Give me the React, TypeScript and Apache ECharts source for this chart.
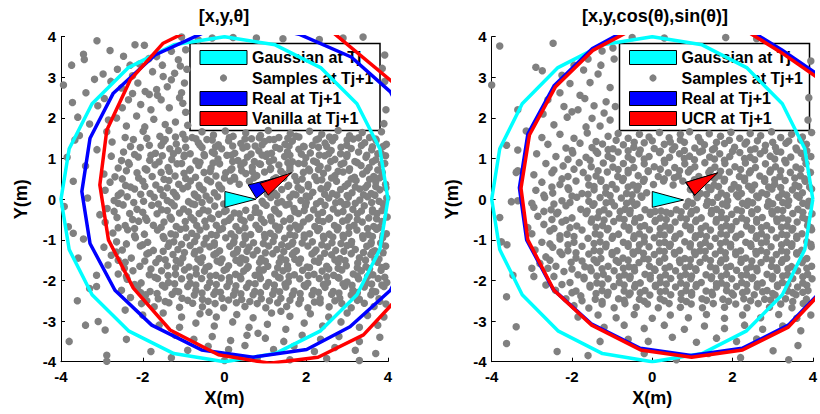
import React, { useEffect, useRef } from 'react';
import * as echarts from 'echarts';

const FONT = '"Liberation Sans", Arial, Helvetica, sans-serif';

const plotTitles = ['[x,y,θ]', '[x,y,cos(θ),sin(θ)]'];
const legendLeft = ['Gaussian at Tj', 'Samples at Tj+1', 'Real at Tj+1', 'Vanilla at Tj+1'];
const legendRight = ['Gaussian at Tj', 'Samples at Tj+1', 'Real at Tj+1', 'UCR at Tj+1'];

// Gaussian at Tj (same polygon in both panels)
const gaussianTj = [[4, 0], [3.8, 1.24], [3.24, 2.35], [2.35, 3.24], [1.24, 3.8], [0, 4], [-1.24, 3.8], [-2.35, 3.24], [-3.24, 2.35], [-3.8, 1.24], [-4, 0], [-3.8, -1.24], [-3.24, -2.35], [-2.35, -3.24], [-1.24, -3.8], [0, -4], [1.24, -3.8], [2.35, -3.24], [3.24, -2.35], [3.8, -1.24], [4, 0]];

const realLeft = [[4.85, 0.2], [4.65, 1.48], [4.06, 2.64], [3.1, 3.5], [1.85, 4.05], [0.7, 4.35], [-0.4, 4.15], [-1.7, 3.55], [-2.72, 2.61], [-3.29, 1.5], [-3.49, 0.19], [-3.29, -1.09], [-2.68, -2.24], [-1.78, -3.1], [-0.56, -3.71], [0.7, -3.89], [2.01, -3.7], [3.07, -3.14], [4.06, -2.24], [4.65, -1.1], [4.85, 0.2]];
const vanillaLeft = [[5.0, 0.3], [4.9, 1.5], [4.45, 2.6], [2.3, 4.4], [-0.4, 4.38], [-1.5, 3.84], [-2.31, 2.93], [-2.88, 1.7], [-3.05, 0.35], [-2.84, -1.0], [-2.23, -2.19], [-1.33, -3.22], [-0.15, -3.83], [1.11, -4.04], [2.29, -3.89], [3.4, -3.34], [4.3, -2.37], [4.85, -1.0], [5.0, 0.3]];
const realRight = [[4.95, 0.12], [4.8, 1.45], [4.3, 2.95], [3.22, 3.68], [2.02, 4.4], [0.85, 4.5], [-0.42, 4.28], [-1.49, 3.71], [-2.44, 2.8], [-3.1, 1.6], [-3.31, 0.28], [-3.13, -1.0], [-2.47, -2.22], [-1.52, -3.07], [-0.3, -3.67], [0.97, -3.85], [2.24, -3.67], [3.39, -3.1], [4.22, -2.25], [4.72, -1.15], [4.95, 0.12]];
const ucrRight = [[4.9, 0.1], [4.75, 1.4], [4.25, 2.9], [3.2, 3.62], [2.0, 4.35], [0.85, 4.45], [-0.45, 4.2], [-1.47, 3.67], [-2.41, 2.77], [-3.06, 1.58], [-3.27, 0.27], [-3.1, -1.0], [-2.45, -2.24], [-1.51, -3.1], [-0.29, -3.71], [0.98, -3.89], [2.25, -3.71], [3.39, -3.15], [4.2, -2.3], [4.7, -1.2], [4.9, 0.1]];

// pose arrows (triangles)
const arrowGaussianLeft = [[0.01, 0.19], [0.01, -0.2], [0.77, 0.0]];
const arrowRealLeft = [[0.58, 0.35], [0.78, 0.02], [1.45, 0.57]];
const arrowVanillaLeft = [[0.87, 0.39], [1.07, 0.1], [1.64, 0.65]];
const arrowGaussianRight = [[0.0, 0.19], [0.0, -0.2], [0.78, -0.02]];
const arrowRealRight = [[0.83, 0.41], [1.05, 0.09], [1.61, 0.64]];
const arrowUcrRight = [[0.84, 0.415], [1.06, 0.1], [1.63, 0.65]];

// samples at Tj+1 (x,y pairs), left panel
const samplesLeft = [
  -3.45,3.57,-3.43,3.44,-3.74,3.3,-2.8,3.66,-2.19,3.8,-1.96,3.79,-1.66,3.51,-1.13,3.43,-1.05,3.99,-0.64,3.92,-2.31,3.3,-1.52,3.3,-1.3,3.64,-2.47,3.52,-3.12,3.9,0.21,3.98,0.78,3.97,1.43,3.95,2.32,3.93,3.39,3.99,3.92,3.55,-0.95,3.68,-1.85,3.46,-2.08,3.33,2.9,3.97,-0.3,3.97,
  -3.94,2.81,-3.39,2.62,-2.97,3.08,-2.62,3.2,-2.25,3.04,-1.94,2.65,-1.84,2.58,-1.66,2.7,-1.4,2.77,-1.22,3.1,-1.5,3.02,-0.98,2.86,-1.08,3.28,-2.12,2.86,-2.52,2.74,-1.76,3.14,-1.3,2.94,-0.92,3.2,3.92,2.9,3.86,3.22,-3.18,2.95,-2.78,2.9,-1.05,2.62,
  -3.59,2.02,-2.84,1.95,-2.64,2.0,-3.1,2.3,-2.35,2.45,-2.05,2.33,-1.8,2.2,-1.55,2.45,-1.35,2.25,-1.1,2.5,-0.95,2.14,-1.2,1.9,-1.45,1.84,-1.73,1.97,-2.15,2.05,-2.5,2.25,-2.94,2.48,-1.95,1.78,-2.4,1.8,-0.9,1.82,-1.64,2.56,3.95,2.2,3.9,1.86,-3.3,1.85,-2.25,2.6,-1.02,2.36,-3.72,2.38,
  -3.55,1.57,-2.88,1.66,-2.43,1.52,-1.99,1.67,-1.58,1.55,-1.36,1.69,-1.02,1.6,-0.79,1.52,-0.55,1.66,-0.27,1.58,0.02,1.68,0.21,1.55,0.52,1.63,0.88,1.57,1.07,1.69,1.33,1.52,1.61,1.62,1.75,1.55,2.08,1.67,2.38,1.6,2.57,1.53,2.78,1.69,3.06,1.56,3.37,1.64,3.55,1.52,3.84,1.66,
  -3.66,1.46,-2.75,1.41,-2.23,1.47,-1.84,1.33,-1.49,1.42,-1.18,1.36,-0.96,1.48,-0.64,1.39,-0.43,1.47,-0.15,1.34,0.1,1.44,0.4,1.37,0.66,1.49,0.75,1.31,0.98,1.42,1.21,1.47,1.48,1.35,1.66,1.43,1.93,1.3,2.24,1.46,2.46,1.38,2.64,1.44,2.99,1.33,3.15,1.48,3.43,1.39,3.71,1.45,3.96,1.35,
  -3.12,1.22,-2.47,1.16,-2.06,1.27,-1.69,1.13,-1.34,1.24,-1.13,1.2,-0.84,1.12,-0.55,1.27,-0.3,1.16,-0.07,1.24,0.25,1.13,0.45,1.26,0.84,1.19,1.05,1.11,1.35,1.24,1.54,1.17,1.82,1.23,2.1,1.14,2.3,1.28,2.61,1.2,2.84,1.12,3.1,1.25,3.28,1.16,3.6,1.22,3.83,1.13,
  -3.85,1.03,-2.77,1.06,-2.52,0.95,-2.11,1.04,-1.83,0.96,-1.52,1.07,-1.29,0.98,-0.99,1.05,-0.7,0.94,-0.49,1.07,-0.16,0.99,0.06,1.08,0.33,0.95,0.56,1.04,0.73,0.93,1.01,1.06,1.2,0.97,1.47,1.05,1.66,0.92,1.99,1.02,2.18,0.94,2.45,1.07,2.7,0.98,2.99,1.05,3.19,0.93,3.46,1.03,3.7,0.97,3.94,1.07,
  -3.4,0.82,-2.6,0.77,-2.33,0.86,-1.94,0.75,-1.7,0.85,-1.38,0.78,-1.16,0.87,-0.84,0.74,-0.63,0.83,-0.33,0.77,-0.12,0.87,0.18,0.75,0.4,0.82,0.68,0.79,0.88,0.86,1.13,0.76,1.33,0.84,1.6,0.79,1.81,0.88,2.06,0.74,2.34,0.81,2.53,0.77,2.85,0.86,3.06,0.75,3.34,0.83,3.54,0.78,3.84,0.86,
  -2.95,0.62,-2.68,0.55,-2.14,0.65,-1.77,0.56,-1.55,0.66,-1.21,0.57,-0.99,0.64,-0.71,0.54,-0.5,0.66,-0.21,0.57,0.03,0.65,0.24,0.54,0.52,0.63,0.79,0.58,0.98,0.67,1.26,0.53,1.45,0.62,1.72,0.56,1.93,0.66,2.21,0.55,2.42,0.64,2.7,0.58,2.9,0.67,3.18,0.54,3.38,0.62,3.65,0.56,3.86,0.66,
  -3.7,0.44,-2.8,0.42,-2.42,0.34,-2.0,0.44,-1.68,0.35,-1.36,0.46,-1.12,0.37,-0.83,0.45,-0.62,0.34,-0.34,0.43,-0.14,0.35,0.14,0.45,0.36,0.37,0.61,0.44,1.28,0.44,1.57,0.34,1.77,0.45,2.05,0.36,2.26,0.46,2.53,0.35,2.74,0.44,3.02,0.38,3.22,0.46,3.5,0.35,3.7,0.43,3.94,0.37,
  -2.92,0.22,-2.53,0.15,-2.2,0.25,-1.82,0.14,-1.57,0.24,-1.25,0.17,-1.02,0.26,-0.74,0.13,-0.52,0.23,-0.25,0.16,-0.07,0.26,0.93,0.25,1.22,0.15,1.4,0.24,1.68,0.13,1.88,0.23,2.16,0.17,2.36,0.26,2.64,0.14,2.84,0.24,3.12,0.16,3.31,0.25,3.59,0.14,3.8,0.23,
  -3.35,0.03,-2.7,-0.03,-2.38,0.06,-1.98,-0.05,-1.72,0.05,-1.4,-0.03,-1.17,0.06,-0.88,-0.06,-0.65,0.04,-0.36,-0.02,-0.17,0.06,0.92,-0.05,1.13,0.04,1.4,-0.06,1.6,0.05,1.87,-0.03,2.08,0.06,2.35,-0.05,2.55,0.03,2.84,-0.06,3.03,0.05,3.31,-0.02,3.5,0.06,3.78,-0.05,3.97,0.03,
  -3.92,-0.18,-2.87,-0.23,-2.48,-0.14,-2.14,-0.25,-1.78,-0.15,-1.54,-0.26,-1.23,-0.16,-1.0,-0.24,-0.73,-0.13,-0.52,-0.26,-0.24,-0.17,0.04,-0.28,0.24,-0.34,0.52,-0.27,0.76,-0.21,1.02,-0.15,1.22,-0.25,1.5,-0.14,1.7,-0.23,1.98,-0.16,2.18,-0.26,2.46,-0.15,2.66,-0.24,2.94,-0.14,3.14,-0.25,3.42,-0.16,3.62,-0.26,3.9,-0.15,
  -3.05,-0.38,-2.63,-0.45,-2.32,-0.35,-1.93,-0.46,-1.65,-0.36,-1.33,-0.44,-1.1,-0.34,-0.82,-0.45,-0.62,-0.35,-0.34,-0.46,-0.14,-0.37,0.15,-0.46,0.36,-0.36,0.64,-0.45,0.85,-0.34,1.13,-0.44,1.33,-0.36,1.61,-0.47,1.81,-0.35,2.09,-0.45,2.29,-0.37,2.57,-0.46,2.77,-0.34,3.05,-0.44,3.25,-0.36,3.53,-0.46,3.73,-0.35,3.98,-0.44,
  -3.82,-0.68,-2.92,-0.57,-2.43,-0.65,-2.1,-0.54,-1.74,-0.64,-1.48,-0.56,-1.18,-0.67,-0.96,-0.55,-0.68,-0.65,-0.48,-0.54,-0.2,-0.64,0.0,-0.56,0.28,-0.67,0.48,-0.54,0.77,-0.64,0.97,-0.57,1.25,-0.66,1.45,-0.54,1.73,-0.64,1.93,-0.56,2.21,-0.67,2.41,-0.55,2.69,-0.65,2.89,-0.54,3.17,-0.64,3.37,-0.56,3.65,-0.67,3.85,-0.55,
  -3.7,-0.84,-2.73,-0.83,-2.37,-0.75,-1.96,-0.86,-1.64,-0.76,-1.31,-0.85,-1.08,-0.74,-0.8,-0.84,-0.6,-0.76,-0.32,-0.87,-0.12,-0.75,0.16,-0.85,0.36,-0.77,0.64,-0.87,0.84,-0.74,1.12,-0.84,1.32,-0.76,1.6,-0.87,1.8,-0.74,2.08,-0.85,2.28,-0.77,2.56,-0.86,2.76,-0.75,3.04,-0.84,3.24,-0.76,3.52,-0.87,3.72,-0.74,3.96,-0.85,
  -3.45,-0.98,-2.64,-1.05,-2.18,-0.95,-1.88,-1.06,-1.48,-0.96,-1.24,-1.05,-0.93,-0.94,-0.73,-1.04,-0.45,-0.96,-0.25,-1.07,0.03,-0.95,0.23,-1.05,0.51,-0.97,0.71,-1.07,0.99,-0.94,1.19,-1.04,1.47,-0.96,1.67,-1.06,1.95,-0.95,2.15,-1.05,2.43,-0.97,2.63,-1.07,2.91,-0.94,3.11,-1.04,3.39,-0.96,3.59,-1.06,3.87,-0.95,
  -2.95,-1.18,-2.5,-1.25,-2.06,-1.15,-1.74,-1.26,-1.38,-1.16,-1.14,-1.24,-0.84,-1.14,-0.6,-1.25,-0.36,-1.17,-0.12,-1.27,0.13,-1.16,0.32,-1.24,0.6,-1.18,0.8,-1.26,1.08,-1.15,1.28,-1.24,1.56,-1.16,1.76,-1.27,2.04,-1.15,2.24,-1.25,2.52,-1.17,2.72,-1.26,3.0,-1.14,3.2,-1.24,3.48,-1.16,3.68,-1.27,3.94,-1.15,
  -3.58,-1.45,-2.77,-1.38,-2.28,-1.45,-1.9,-1.35,-1.6,-1.46,-1.26,-1.36,-1.02,-1.45,-0.74,-1.34,-0.54,-1.44,-0.26,-1.37,-0.06,-1.47,0.22,-1.35,0.42,-1.45,0.7,-1.37,0.9,-1.46,1.18,-1.34,1.38,-1.44,1.66,-1.36,1.86,-1.47,2.14,-1.35,2.34,-1.45,2.62,-1.37,2.82,-1.46,3.1,-1.34,3.3,-1.44,3.58,-1.36,3.78,-1.47,
  -2.85,-1.62,-2.43,-1.55,-2.07,-1.65,-1.68,-1.56,-1.4,-1.64,-1.08,-1.57,-0.87,-1.67,-0.58,-1.55,-0.38,-1.65,-0.1,-1.56,0.1,-1.64,0.38,-1.57,0.58,-1.66,0.86,-1.55,1.06,-1.65,1.34,-1.56,1.54,-1.64,1.82,-1.57,2.02,-1.67,2.3,-1.55,2.5,-1.65,2.78,-1.56,2.98,-1.64,3.26,-1.57,3.46,-1.66,3.74,-1.55,3.95,-1.65,
  -3.13,-1.87,-2.6,-1.84,-2.24,-1.76,-1.84,-1.86,-1.54,-1.76,-1.2,-1.85,-0.98,-1.74,-0.69,-1.84,-0.49,-1.77,-0.21,-1.87,-0.01,-1.75,0.27,-1.85,0.47,-1.77,0.75,-1.87,0.95,-1.74,1.23,-1.84,1.43,-1.76,1.71,-1.86,1.91,-1.75,2.19,-1.85,2.39,-1.77,2.67,-1.87,2.87,-1.74,3.15,-1.84,3.35,-1.76,3.63,-1.86,3.83,-1.75,
  -3.13,-2.15,-2.38,-1.97,-2.04,-2.06,-1.64,-1.95,-1.37,-2.05,-1.05,-1.96,-0.84,-2.07,-0.56,-1.95,-0.36,-2.05,-0.08,-1.94,0.12,-2.04,0.4,-1.96,0.6,-2.07,0.88,-1.95,1.08,-2.05,1.36,-1.94,1.56,-2.04,1.84,-1.96,2.04,-2.07,2.32,-1.95,2.52,-2.05,2.8,-1.94,3.0,-2.04,3.28,-1.96,3.48,-2.06,3.76,-1.95,3.97,-2.05,
  -2.52,-2.24,-2.13,-2.17,-1.82,-2.27,-1.46,-2.16,-1.2,-2.26,-0.9,-2.15,-0.7,-2.25,-0.42,-2.17,-0.22,-2.27,0.06,-2.15,0.26,-2.25,0.54,-2.17,0.74,-2.27,1.02,-2.14,1.22,-2.24,1.5,-2.16,1.7,-2.26,1.98,-2.15,2.18,-2.25,2.46,-2.17,2.66,-2.27,2.94,-2.14,3.14,-2.24,3.42,-2.16,3.62,-2.26,3.9,-2.15,
  -2.3,-2.42,-1.93,-2.35,-1.62,-2.45,-1.28,-2.34,-1.04,-2.44,-0.74,-2.36,-0.54,-2.46,-0.26,-2.34,-0.06,-2.44,0.22,-2.36,0.42,-2.47,0.7,-2.35,0.9,-2.45,1.18,-2.34,1.38,-2.44,1.66,-2.36,1.86,-2.46,2.14,-2.35,2.34,-2.45,2.62,-2.34,2.82,-2.44,3.1,-2.36,3.3,-2.46,3.58,-2.35,3.78,-2.45,
  -2.43,-2.73,-2.03,-2.57,-1.72,-2.65,-1.36,-2.55,-1.1,-2.66,-0.78,-2.56,-0.54,-2.65,-0.23,-2.57,-0.02,-2.67,0.29,-2.55,0.5,-2.64,0.8,-2.57,1.01,-2.67,1.3,-2.55,1.52,-2.64,1.82,-2.57,2.04,-2.67,2.34,-2.55,2.56,-2.65,2.87,-2.57,3.1,-2.67,3.42,-2.56,3.66,-2.64,3.95,-2.58,
  -3.6,-2.5,-3.3,-2.2,-2.0,-2.85,-1.5,-2.8,-1.05,-2.9,-0.6,-2.82,-0.2,-2.9,0.3,-2.84,0.7,-2.92,1.15,-2.8,1.6,-2.88,2.1,-2.82,2.55,-2.9,3.0,-2.8,3.5,-2.86,3.9,-2.9,-0.38,-2.78,1.38,-2.76,
  -3.09,-3.01,-2.92,-3.22,-1.6,-3.1,-1.1,-3.15,-0.7,-3.05,-0.25,-3.12,0.2,-3.02,0.6,-3.15,1.05,-3.08,1.5,-3.2,1.95,-3.05,2.4,-3.12,2.85,-3.02,3.3,-3.15,3.75,-3.1,-3.4,-3.1,0.82,-3.3,
  -2.4,-3.45,-1.2,-3.35,-0.75,-3.45,-0.3,-3.38,0.15,-3.48,0.55,-3.35,1.0,-3.42,1.45,-3.5,1.9,-3.35,2.35,-3.45,2.8,-3.38,3.3,-3.5,3.8,-3.4,-3.8,-3.5,
  -2.88,-3.84,-1.8,-3.75,-0.9,-3.72,-0.4,-3.62,0.1,-3.7,0.5,-3.6,1.2,-3.7,1.7,-3.62,2.2,-3.75,2.7,-3.65,3.2,-3.72,3.7,-3.8,
  -2.88,-3.99,-1.3,-3.9,0.0,-3.97,0.8,-3.92,1.6,-3.95,2.5,-3.92,3.3,-3.97,
];

// extra samples filling the dense core, left panel
const samplesLeftCore = [
  -1.9,1.5,-1.45,1.47,-1.2,1.53,-0.7,1.49,-0.3,1.46,0.12,1.52,0.5,1.48,0.85,1.51,1.1,1.47,1.55,1.5,1.82,1.53,2.3,1.49,2.7,1.52,3.0,1.46,3.28,1.51,3.7,1.48,
  -2.3,1.3,-1.55,1.32,-0.95,1.28,-0.6,1.33,-0.22,1.29,0.2,1.31,0.55,1.3,0.92,1.34,1.25,1.28,1.58,1.31,1.95,1.29,2.15,1.33,2.5,1.3,2.85,1.28,3.35,1.32,3.62,1.29,3.88,1.3,
  -2.2,1.1,-1.8,1.08,-1.25,1.12,-0.98,1.09,-0.5,1.1,-0.25,1.13,0.17,1.08,0.65,1.11,0.92,1.09,1.15,1.13,1.6,1.08,1.88,1.11,2.32,1.09,2.55,1.12,3.0,1.1,3.48,1.08,3.75,1.12,
  -2.35,0.9,-1.6,0.92,-1.05,0.88,-0.6,0.91,-0.28,0.89,0.2,0.93,0.48,0.9,0.85,0.87,1.1,0.92,1.55,0.9,1.95,0.88,2.25,0.91,2.6,0.93,2.92,0.89,3.25,0.9,3.62,0.92,3.92,0.88,
  -2.4,0.7,-1.9,0.72,-1.35,0.69,-0.85,0.71,-0.35,0.68,0.15,0.72,0.42,0.7,0.68,0.68,1.12,0.73,1.38,0.69,1.6,0.71,2.08,0.7,2.3,0.73,2.78,0.69,3.05,0.71,3.48,0.7,3.75,0.72,
  -2.5,0.5,-2.1,0.52,-1.48,0.49,-0.95,0.51,-0.42,0.48,0.0,0.52,0.25,0.5,0.72,0.53,1.2,0.49,1.45,0.52,1.9,0.5,2.38,0.48,2.62,0.52,3.1,0.5,3.55,0.49,3.8,0.53,
  -2.3,0.3,-1.95,0.32,-1.4,0.28,-0.9,0.31,-0.6,0.29,-0.12,0.3,1.55,0.32,1.8,0.29,2.05,0.31,2.5,0.28,2.95,0.32,3.2,0.3,3.45,0.29,3.7,0.31,3.95,0.28,
  -2.6,0.1,-2.05,0.12,-1.5,0.09,-1.2,0.11,-0.72,0.1,-0.45,0.08,1.05,0.12,1.28,0.09,1.75,0.11,2.0,0.08,2.45,0.12,2.75,0.1,3.0,0.09,3.4,0.11,3.68,0.1,
  -2.6,-0.1,-2.22,-0.08,-1.62,-0.12,-1.3,-0.09,-0.8,-0.11,-0.55,-0.08,-0.02,-0.12,0.95,-0.1,1.3,-0.09,1.58,-0.12,2.0,-0.08,2.25,-0.11,2.72,-0.09,3.0,-0.12,3.2,-0.1,3.6,-0.08,3.88,-0.11,
  -2.7,-0.3,-2.0,-0.32,-1.4,-0.28,-0.88,-0.31,-0.4,-0.29,0.0,-0.3,0.75,-0.32,1.25,-0.29,1.72,-0.31,1.95,-0.28,2.4,-0.32,2.9,-0.3,3.35,-0.29,3.62,-0.31,3.85,-0.28,
  -2.25,-0.5,-1.9,-0.52,-1.3,-0.49,-0.75,-0.51,-0.3,-0.48,0.1,-0.52,0.4,-0.5,0.9,-0.49,1.15,-0.53,1.6,-0.5,2.05,-0.48,2.3,-0.52,2.55,-0.49,3.0,-0.51,3.25,-0.5,3.72,-0.48,
  -2.6,-0.7,-2.2,-0.72,-1.55,-0.69,-0.95,-0.71,-0.45,-0.68,-0.05,-0.72,0.5,-0.7,0.85,-0.73,1.35,-0.69,1.6,-0.71,1.85,-0.68,2.32,-0.72,2.78,-0.7,3.05,-0.69,3.5,-0.72,3.78,-0.7,
  -2.2,-0.9,-1.5,-0.92,-1.2,-0.88,-0.68,-0.91,-0.2,-0.89,0.25,-0.93,0.5,-0.9,0.98,-0.87,1.22,-0.92,1.72,-0.9,1.95,-0.88,2.42,-0.91,2.65,-0.93,2.9,-0.89,3.38,-0.9,3.62,-0.92,3.88,-0.88,
  -2.4,-1.1,-2.0,-1.12,-1.35,-1.08,-1.05,-1.11,-0.5,-1.1,-0.25,-1.13,0.22,-1.08,0.45,-1.11,0.95,-1.09,1.4,-1.12,1.65,-1.1,1.9,-1.08,2.38,-1.12,2.85,-1.09,3.1,-1.11,3.58,-1.1,3.82,-1.08,
  -2.65,-1.3,-1.85,-1.32,-1.5,-1.28,-0.98,-1.31,-0.72,-1.29,-0.2,-1.33,0.3,-1.3,0.55,-1.28,1.0,-1.32,1.45,-1.29,1.7,-1.31,2.2,-1.3,2.45,-1.33,2.92,-1.28,3.4,-1.31,3.62,-1.3,3.88,-1.32,
  -2.6,-1.5,-1.95,-1.52,-1.45,-1.49,-1.18,-1.51,-0.65,-1.48,-0.18,-1.52,0.28,-1.5,0.52,-1.49,1.0,-1.53,1.5,-1.5,1.72,-1.48,2.2,-1.52,2.7,-1.49,2.95,-1.51,3.45,-1.5,3.68,-1.48,
  -2.45,-1.7,-1.8,-1.72,-1.2,-1.69,-0.7,-1.71,-0.45,-1.68,0.05,-1.72,0.55,-1.7,0.85,-1.73,1.3,-1.69,1.55,-1.71,2.08,-1.68,2.55,-1.72,2.78,-1.7,3.25,-1.69,3.55,-1.71,3.85,-1.68,
  -2.4,-1.9,-1.7,-1.92,-1.38,-1.88,-0.85,-1.91,-0.35,-1.89,0.12,-1.93,0.38,-1.9,0.85,-1.87,1.32,-1.92,1.58,-1.9,2.05,-1.88,2.5,-1.91,2.78,-1.93,3.25,-1.89,3.5,-1.9,3.92,-1.92,
  -2.2,-2.1,-1.52,-2.12,-1.22,-2.08,-0.7,-2.11,-0.2,-2.1,0.28,-2.13,0.75,-2.08,1.22,-2.11,1.48,-2.09,1.95,-2.12,2.42,-2.1,2.9,-2.08,3.12,-2.12,3.6,-2.09,3.85,-2.11,
  -2.05,-2.3,-1.65,-2.32,-1.12,-2.28,-0.55,-2.31,-0.1,-2.29,0.4,-2.33,0.88,-2.3,1.35,-2.28,1.85,-2.32,2.3,-2.29,2.8,-2.31,3.25,-2.3,3.7,-2.28,
  -1.9,-2.5,-1.45,-2.52,-0.9,-2.49,-0.4,-2.51,0.1,-2.48,0.62,-2.52,1.1,-2.5,1.6,-2.49,2.2,-2.53,2.7,-2.5,3.25,-2.49,3.8,-2.51,
];

// samples at Tj+1 (x,y pairs), right panel
const samplesRight = [
  -3.8,3.77,-2.47,3.84,-2.9,3.25,-2.74,3.16,-4.0,2.81,-1.71,3.18,-1.28,3.3,-1.35,3.08,-1.8,2.56,-1.68,2.48,-1.55,2.87,-2.2,2.28,-2.0,2.15,-2.12,2.02,-2.45,1.83,-2.72,2.1,-1.5,1.99,-1.05,2.75,-0.95,3.45,-1.15,2.4,-2.3,2.62,-1.45,2.3,-1.05,1.95,-2.05,2.85,-0.98,3.72,-0.5,3.98,0.3,3.97,1.83,3.98,2.6,3.95,3.95,3.4,3.9,2.5,3.88,1.95,-1.25,3.65,-1.6,3.45,-1.95,3.3,-2.25,3.05,-1.2,2.12,-1.85,2.2,-1.3,1.8,-0.92,2.28,-2.6,2.45,-3.35,2.2,-1.65,1.78,
  -3.14,1.68,-2.75,1.52,-2.3,1.6,-1.95,1.5,-1.62,1.63,-1.1,1.55,-0.85,1.62,-0.6,1.5,-0.32,1.6,-0.08,1.53,0.18,1.64,0.42,1.51,0.7,1.6,0.93,1.66,1.15,1.52,1.42,1.61,1.7,1.55,1.96,1.65,2.18,1.5,2.44,1.62,2.7,1.56,2.97,1.66,3.2,1.52,3.47,1.6,3.74,1.53,3.97,1.64,
  -3.63,1.33,-3.35,1.21,-2.6,1.35,-2.15,1.26,-1.8,1.38,-1.5,1.27,-1.24,1.36,-0.98,1.24,-0.72,1.34,-0.46,1.28,-0.2,1.39,0.05,1.25,0.3,1.35,0.56,1.29,0.8,1.4,1.06,1.26,1.3,1.34,1.55,1.25,1.8,1.37,2.05,1.28,2.31,1.36,2.56,1.24,2.82,1.33,3.07,1.27,3.33,1.38,3.58,1.26,3.84,1.35,
  -2.88,1.12,-2.4,1.05,-1.98,1.14,-1.65,1.03,-1.36,1.13,-1.1,1.06,-0.85,1.16,-0.6,1.04,-0.33,1.12,-0.08,1.05,0.18,1.15,0.43,1.03,0.68,1.12,0.93,1.06,1.18,1.16,1.43,1.04,1.68,1.12,1.93,1.05,2.18,1.15,2.44,1.03,2.69,1.12,2.94,1.06,3.2,1.16,3.45,1.04,3.71,1.13,3.95,1.05,
  -3.35,0.7,-2.65,0.88,-2.22,0.82,-1.82,0.9,-1.52,0.8,-1.22,0.89,-0.98,0.79,-0.72,0.88,-0.46,0.78,-0.2,0.87,0.05,0.8,0.31,0.9,0.56,0.78,0.81,0.87,1.06,0.8,1.31,0.9,1.56,0.79,1.81,0.88,2.06,0.8,2.32,0.89,2.57,0.78,2.82,0.87,3.07,0.8,3.33,0.9,3.58,0.79,3.83,0.88,
  -2.95,0.6,-2.5,0.65,-2.1,0.56,-1.72,0.66,-1.4,0.57,-1.12,0.67,-0.86,0.56,-0.6,0.65,-0.35,0.58,-0.1,0.68,0.15,0.56,0.4,0.65,0.65,0.57,0.9,0.67,1.16,0.56,1.41,0.66,1.66,0.58,1.92,0.67,2.17,0.56,2.42,0.65,2.68,0.57,2.93,0.67,3.18,0.56,3.44,0.66,3.69,0.58,3.94,0.66,
  -3.39,0.66,-2.75,0.42,-2.3,0.36,-1.9,0.45,-1.58,0.35,-1.28,0.44,-1.0,0.36,-0.74,0.46,-0.48,0.35,-0.22,0.44,0.03,0.36,0.28,0.45,0.52,0.35,0.76,0.45,1.28,0.44,1.54,0.35,1.79,0.45,2.04,0.36,2.3,0.46,2.55,0.35,2.8,0.44,3.05,0.37,3.31,0.46,3.56,0.35,3.81,0.44,
  -2.9,0.22,-2.48,0.15,-2.08,0.24,-1.75,0.14,-1.45,0.23,-1.16,0.15,-0.9,0.25,-0.64,0.14,-0.38,0.23,-0.14,0.16,0.95,0.24,1.2,0.14,1.46,0.24,1.72,0.15,1.97,0.25,2.22,0.14,2.48,0.23,2.73,0.16,2.98,0.25,3.24,0.14,3.49,0.23,3.74,0.16,3.97,0.25,
  -3.51,-0.06,-3.35,-0.04,-2.68,0.04,-2.25,-0.04,-1.88,0.05,-1.58,-0.05,-1.3,0.04,-1.02,-0.06,-0.77,0.03,-0.51,-0.05,-0.26,0.05,0.9,-0.06,1.12,0.04,1.38,-0.05,1.63,0.05,1.88,-0.04,2.14,0.06,2.39,-0.05,2.64,0.04,2.9,-0.06,3.15,0.05,3.4,-0.04,3.66,0.05,3.9,-0.05,
  -2.95,-0.2,-2.52,-0.26,-2.15,-0.16,-1.78,-0.25,-1.48,-0.15,-1.2,-0.26,-0.94,-0.16,-0.68,-0.25,-0.43,-0.15,-0.18,-0.26,0.07,-0.3,0.35,-0.32,0.6,-0.26,0.85,-0.17,1.1,-0.26,1.35,-0.15,1.6,-0.25,1.86,-0.16,2.11,-0.26,2.36,-0.15,2.62,-0.25,2.87,-0.17,3.12,-0.26,3.38,-0.15,3.63,-0.25,3.88,-0.16,
  -3.8,-0.45,-2.85,-0.42,-2.38,-0.36,-2.0,-0.46,-1.65,-0.35,-1.36,-0.45,-1.08,-0.36,-0.82,-0.46,-0.56,-0.35,-0.3,-0.45,-0.05,-0.37,0.2,-0.46,0.46,-0.35,0.71,-0.45,0.96,-0.36,1.22,-0.46,1.47,-0.35,1.72,-0.45,1.98,-0.37,2.23,-0.46,2.48,-0.35,2.74,-0.45,2.99,-0.36,3.24,-0.46,3.5,-0.35,3.75,-0.45,3.98,-0.36,
  -2.7,-0.62,-2.25,-0.56,-1.88,-0.66,-1.52,-0.56,-1.24,-0.65,-0.96,-0.55,-0.7,-0.66,-0.44,-0.56,-0.19,-0.65,0.07,-0.55,0.32,-0.66,0.57,-0.56,0.83,-0.65,1.08,-0.55,1.33,-0.66,1.59,-0.56,1.84,-0.65,2.09,-0.55,2.35,-0.66,2.6,-0.56,2.85,-0.65,3.11,-0.55,3.36,-0.66,3.61,-0.56,3.87,-0.65,
  -3.0,-0.85,-2.55,-0.78,-2.12,-0.86,-1.75,-0.76,-1.42,-0.85,-1.12,-0.75,-0.84,-0.86,-0.58,-0.76,-0.32,-0.85,-0.07,-0.75,0.19,-0.86,0.44,-0.76,0.69,-0.85,0.95,-0.75,1.2,-0.86,1.45,-0.76,1.71,-0.85,1.96,-0.75,2.21,-0.86,2.47,-0.76,2.72,-0.85,2.97,-0.75,3.23,-0.86,3.48,-0.76,3.73,-0.85,3.97,-0.75,
  -3.76,-1.05,-3.62,-1.12,-2.75,-1.06,-2.3,-0.98,-1.95,-1.06,-1.6,-0.96,-1.3,-1.05,-1.0,-0.96,-0.72,-1.06,-0.46,-0.96,-0.2,-1.05,0.05,-0.95,0.31,-1.06,0.56,-0.96,0.81,-1.05,1.07,-0.95,1.32,-1.06,1.57,-0.96,1.83,-1.05,2.08,-0.95,2.33,-1.06,2.59,-0.96,2.84,-1.05,3.09,-0.95,3.35,-1.06,3.6,-0.96,3.85,-1.05,
  -2.92,-1.25,-2.48,-1.18,-2.1,-1.27,-1.75,-1.16,-1.45,-1.26,-1.16,-1.17,-0.88,-1.27,-0.6,-1.16,-0.35,-1.26,-0.08,-1.17,0.18,-1.27,0.43,-1.16,0.68,-1.26,0.94,-1.17,1.19,-1.27,1.44,-1.16,1.7,-1.26,1.95,-1.17,2.2,-1.27,2.46,-1.16,2.71,-1.26,2.96,-1.17,3.22,-1.27,3.47,-1.16,3.72,-1.26,3.96,-1.17,
  -3.0,-1.7,-2.65,-1.42,-2.25,-1.36,-1.9,-1.45,-1.58,-1.35,-1.28,-1.46,-1.0,-1.36,-0.73,-1.45,-0.47,-1.35,-0.21,-1.46,0.05,-1.36,0.31,-1.45,0.56,-1.35,0.81,-1.46,1.07,-1.36,1.32,-1.45,1.57,-1.35,1.83,-1.46,2.08,-1.36,2.33,-1.45,2.59,-1.35,2.84,-1.46,3.09,-1.36,3.35,-1.45,3.6,-1.35,3.85,-1.46,
  -2.8,-1.58,-2.4,-1.65,-2.02,-1.55,-1.68,-1.66,-1.38,-1.56,-1.1,-1.65,-0.84,-1.55,-0.58,-1.66,-0.33,-1.56,-0.07,-1.65,0.18,-1.55,0.43,-1.66,0.69,-1.56,0.94,-1.65,1.19,-1.55,1.45,-1.66,1.7,-1.56,1.95,-1.65,2.21,-1.55,2.46,-1.66,2.71,-1.56,2.97,-1.65,3.22,-1.55,3.47,-1.66,3.73,-1.56,3.97,-1.65,
  -3.47,-1.87,-2.95,-1.9,-2.2,-1.78,-1.85,-1.86,-1.52,-1.76,-1.22,-1.85,-0.95,-1.76,-0.69,-1.86,-0.44,-1.76,-0.18,-1.85,0.07,-1.75,0.33,-1.86,0.58,-1.76,0.83,-1.85,1.09,-1.75,1.34,-1.86,1.59,-1.76,1.85,-1.85,2.1,-1.75,2.35,-1.86,2.61,-1.76,2.86,-1.85,3.11,-1.75,3.37,-1.86,3.62,-1.76,3.87,-1.85,
  -2.65,-2.11,-2.05,-2.05,-1.7,-1.96,-1.38,-2.06,-1.1,-1.96,-0.82,-2.05,-0.56,-1.95,-0.3,-2.06,-0.05,-1.96,0.2,-2.05,0.46,-1.95,0.71,-2.06,0.96,-1.96,1.22,-2.05,1.47,-1.95,1.72,-2.06,1.98,-1.96,2.23,-2.05,2.48,-1.95,2.74,-2.06,2.99,-1.96,3.24,-2.05,3.5,-1.95,3.75,-2.06,3.98,-1.96,
  -2.41,-2.24,-1.9,-2.26,-1.55,-2.16,-1.25,-2.25,-0.96,-2.15,-0.7,-2.26,-0.44,-2.16,-0.18,-2.25,0.08,-2.15,0.33,-2.26,0.58,-2.16,0.84,-2.25,1.09,-2.15,1.34,-2.26,1.6,-2.16,1.85,-2.25,2.1,-2.15,2.36,-2.26,2.61,-2.16,2.86,-2.25,3.12,-2.15,3.37,-2.26,3.62,-2.16,3.88,-2.25,
  -3.63,-2.4,-2.15,-2.45,-1.78,-2.38,-1.42,-2.46,-1.12,-2.36,-0.84,-2.45,-0.58,-2.35,-0.32,-2.46,-0.06,-2.36,0.2,-2.45,0.46,-2.35,0.72,-2.46,0.98,-2.36,1.24,-2.45,1.5,-2.35,1.76,-2.46,2.02,-2.36,2.28,-2.45,2.54,-2.35,2.8,-2.46,3.06,-2.36,3.32,-2.45,3.58,-2.35,3.84,-2.46,
  -1.95,-2.62,-1.58,-2.68,-1.25,-2.58,-0.95,-2.67,-0.68,-2.57,-0.4,-2.66,-0.12,-2.58,0.15,-2.67,0.42,-2.57,0.7,-2.66,0.97,-2.58,1.25,-2.67,1.52,-2.57,1.8,-2.66,2.08,-2.58,2.36,-2.67,2.64,-2.57,2.92,-2.66,3.2,-2.58,3.48,-2.67,3.76,-2.57,
  -1.85,-2.9,-1.35,-2.85,-0.9,-2.92,-0.45,-2.84,0.0,-2.93,0.45,-2.85,0.9,-2.92,1.35,-2.84,1.8,-2.93,2.25,-2.85,2.7,-2.92,3.15,-2.84,3.6,-2.93,3.95,-2.85,
  -3.39,-3.14,-1.2,-3.15,-0.7,-3.1,-0.2,-3.18,0.3,-3.1,0.8,-3.2,1.3,-3.12,1.8,-3.18,2.3,-3.1,2.75,-3.2,3.25,-3.12,3.7,-3.24,
  -3.63,-3.55,-2.37,-3.75,-0.6,-3.45,-0.1,-3.5,0.5,-3.4,1.1,-3.52,1.6,-3.42,2.1,-3.5,2.6,-3.44,3.01,-3.73,3.63,-3.6,-1.3,-3.5,
  -1.6,-3.85,-0.2,-3.8,0.6,-3.95,1.4,-3.8,2.2,-3.9,3.4,-3.95,
];

// extra samples filling the dense core, right panel
const samplesRightCore = [
  -1.4,1.42,-0.9,1.45,-0.45,1.4,0.0,1.44,0.45,1.41,0.7,1.46,1.2,1.42,1.6,1.4,1.92,1.45,2.35,1.41,2.62,1.44,3.0,1.4,3.4,1.43,3.7,1.46,
  -2.0,1.2,-1.4,1.18,-1.1,1.22,-0.6,1.19,-0.3,1.21,0.2,1.18,0.5,1.22,0.8,1.2,1.25,1.19,1.5,1.22,2.0,1.18,2.45,1.21,2.8,1.2,3.1,1.18,3.6,1.22,3.85,1.19,
  -2.1,0.98,-1.55,0.96,-1.0,1.0,-0.5,0.97,-0.2,0.99,0.3,0.96,0.8,1.0,1.05,0.97,1.55,0.99,1.8,0.96,2.3,1.0,2.55,0.97,3.05,0.99,3.3,0.96,3.8,1.0,
  -2.45,0.72,-1.95,0.74,-1.35,0.7,-0.85,0.73,-0.6,0.71,-0.1,0.7,0.2,0.74,0.68,0.7,0.95,0.73,1.45,0.71,1.7,0.69,2.2,0.73,2.45,0.7,2.95,0.72,3.2,0.7,3.7,0.74,
  -2.25,0.5,-1.6,0.52,-1.28,0.48,-0.72,0.51,-0.2,0.49,0.3,0.5,0.55,0.53,1.05,0.48,1.55,0.51,1.8,0.49,2.3,0.52,2.8,0.5,3.05,0.48,3.55,0.52,3.8,0.5,
  -2.5,0.3,-2.1,0.28,-1.45,0.31,-1.15,0.29,-0.6,0.3,-0.35,0.32,1.4,0.29,1.65,0.31,2.15,0.28,2.4,0.32,2.9,0.3,3.2,0.29,3.65,0.31,3.92,0.3,
  -2.7,0.1,-2.0,0.08,-1.6,0.12,-1.05,0.09,-0.5,0.11,-0.28,0.08,1.1,0.1,1.35,0.12,1.85,0.09,2.1,0.11,2.6,0.08,2.85,0.12,3.35,0.1,3.6,0.09,
  -3.0,-0.1,-2.45,-0.12,-2.05,-0.08,-1.45,-0.11,-1.15,-0.09,-0.64,-0.1,-0.38,-0.12,1.0,-0.1,1.5,-0.08,1.75,-0.12,2.25,-0.1,2.5,-0.09,3.0,-0.11,3.25,-0.08,3.75,-0.1,
  -2.7,-0.3,-2.35,-0.32,-1.62,-0.29,-1.32,-0.31,-0.8,-0.3,-0.55,-0.28,-0.05,-0.32,0.22,-0.29,0.72,-0.31,0.98,-0.3,1.48,-0.28,1.72,-0.32,2.22,-0.29,2.48,-0.31,2.98,-0.3,3.25,-0.28,3.75,-0.32,
  -2.5,-0.5,-2.15,-0.52,-1.5,-0.49,-1.2,-0.51,-0.7,-0.5,-0.42,-0.48,0.08,-0.52,0.35,-0.5,0.85,-0.49,1.1,-0.51,1.6,-0.5,1.85,-0.48,2.35,-0.52,2.6,-0.5,3.1,-0.49,3.38,-0.51,3.85,-0.5,
  -3.1,-0.7,-2.45,-0.72,-2.05,-0.7,-1.4,-0.69,-1.1,-0.72,-0.58,-0.7,-0.3,-0.68,0.2,-0.72,0.45,-0.7,0.95,-0.69,1.22,-0.72,1.72,-0.7,1.98,-0.68,2.48,-0.72,2.72,-0.7,3.22,-0.69,3.5,-0.72,3.95,-0.7,
  -2.3,-0.9,-1.95,-0.92,-1.3,-0.88,-0.98,-0.91,-0.45,-0.9,-0.2,-0.93,0.3,-0.88,0.58,-0.91,1.08,-0.9,1.35,-0.92,1.85,-0.88,2.1,-0.91,2.6,-0.9,2.85,-0.93,3.35,-0.89,3.6,-0.91,
  -2.55,-1.1,-2.1,-1.12,-1.45,-1.09,-1.15,-1.11,-0.6,-1.1,-0.32,-1.12,0.18,-1.08,0.45,-1.11,0.95,-1.1,1.2,-1.12,1.7,-1.09,1.95,-1.11,2.45,-1.1,2.72,-1.08,3.22,-1.12,3.48,-1.1,3.95,-1.11,
  -2.3,-1.3,-1.9,-1.32,-1.3,-1.28,-1.0,-1.31,-0.48,-1.3,-0.22,-1.33,0.3,-1.29,0.55,-1.31,1.05,-1.3,1.32,-1.28,1.82,-1.32,2.08,-1.3,2.58,-1.29,2.85,-1.31,3.35,-1.3,3.6,-1.32,
  -2.55,-1.5,-1.75,-1.52,-1.45,-1.49,-0.9,-1.51,-0.6,-1.5,-0.1,-1.48,0.18,-1.52,0.68,-1.5,0.95,-1.49,1.45,-1.51,1.72,-1.5,2.22,-1.48,2.48,-1.52,2.98,-1.5,3.25,-1.49,3.75,-1.51,
  -2.6,-1.7,-2.0,-1.72,-1.55,-1.69,-1.25,-1.71,-0.72,-1.7,-0.45,-1.68,0.05,-1.72,0.32,-1.7,0.82,-1.69,1.08,-1.71,1.58,-1.7,1.85,-1.68,2.35,-1.72,2.6,-1.7,3.1,-1.69,3.38,-1.71,3.85,-1.7,
  -2.45,-1.9,-1.7,-1.92,-1.38,-1.89,-0.82,-1.91,-0.55,-1.9,-0.05,-1.88,0.2,-1.92,0.7,-1.9,0.98,-1.89,1.48,-1.91,1.72,-1.9,2.22,-1.88,2.5,-1.92,3.0,-1.9,3.25,-1.89,3.75,-1.91,
  -2.25,-2.1,-1.55,-2.12,-1.25,-2.09,-0.7,-2.11,-0.42,-2.1,0.08,-2.12,0.35,-2.09,0.85,-2.11,1.1,-2.1,1.6,-2.08,1.85,-2.12,2.35,-2.1,2.62,-2.09,3.12,-2.11,3.38,-2.1,3.85,-2.12,
  -2.0,-2.3,-1.4,-2.32,-1.1,-2.29,-0.55,-2.31,-0.3,-2.3,0.2,-2.28,0.72,-2.32,0.98,-2.3,1.48,-2.29,1.98,-2.31,2.25,-2.3,2.75,-2.28,3.0,-2.32,3.5,-2.3,3.75,-2.29,
  -1.75,-2.5,-1.25,-2.52,-0.7,-2.49,-0.2,-2.51,0.3,-2.5,0.85,-2.52,1.35,-2.49,1.9,-2.51,2.45,-2.5,2.95,-2.48,3.5,-2.52,
];

const pairs = (...flats: number[][]) => {
  const out: number[][] = [];
  flats.forEach((flat) => {
    for (let i = 0; i + 1 < flat.length; i += 2) out.push([flat[i], flat[i + 1]]);
  });
  return out;
};

const COLORS = { cyan: '#00ffff', blue: '#0000ff', red: '#ff0000', gray: '#808080' };

function lineSeries(name: string, data: number[][], color: string, idx: number) {
  return {
    type: 'line', name, data, xAxisIndex: idx, yAxisIndex: idx,
    symbol: 'none', clip: true, smooth: false,
    lineStyle: { color, width: 3.5 }, itemStyle: { color }, z: 3,
  };
}

function triangleSeries(name: string, pts: number[][], color: string, idx: number) {
  return {
    type: 'custom', name, xAxisIndex: idx, yAxisIndex: idx, z: 5,
    data: [[pts[0][0], pts[0][1], pts[1][0], pts[1][1], pts[2][0], pts[2][1]]],
    renderItem: (_p: any, api: any) => ({
      type: 'polygon',
      shape: { points: [0, 1, 2].map((k) => api.coord([api.value(2 * k), api.value(2 * k + 1)])) },
      style: { fill: color, stroke: '#000', lineWidth: 1 },
    }),
  };
}

function axisCommon() {
  return {
    type: 'value',
    nameLocation: 'middle',
    nameTextStyle: { fontFamily: FONT, fontWeight: 'bold', fontSize: 18, color: '#000' },
    axisLine: { show: true, onZero: false, lineStyle: { color: '#000', width: 1 } },
    axisTick: { show: true, inside: true, length: 4, lineStyle: { color: '#000', width: 1 } },
    axisLabel: { color: '#000', fontFamily: FONT, fontWeight: 'bold', fontSize: 15 },
    splitLine: { show: false },
  };
}

function legendGraphic(left: number, labels: string[]) {
  const rowY = [57.5, 78, 98.5, 118.5];
  const fills = [COLORS.cyan, null, COLORS.blue, COLORS.red];
  const children: any[] = [
    { type: 'rect', shape: { x: left, y: 43.5, width: 190, height: 87 }, style: { fill: '#fff', stroke: '#000', lineWidth: 1.5 } },
  ];
  labels.forEach((label, i) => {
    const fill = fills[i];
    if (fill) {
      children.push({ type: 'rect', shape: { x: left + 10, y: rowY[i] - 7, width: 47, height: 14 }, style: { fill, stroke: '#000', lineWidth: 1 } });
    } else {
      children.push({ type: 'circle', shape: { cx: left + 33.5, cy: rowY[i], r: 3.6 }, style: { fill: COLORS.gray } });
    }
    children.push({
      type: 'text', x: left + 62, y: rowY[i],
      style: { text: label, fill: '#000', font: `bold 16px ${FONT}`, verticalAlign: 'middle', align: 'left' },
    });
  });
  return { type: 'group', z: 100, children };
}

export default function App() {
  const ref = useRef<HTMLDivElement>(null);
  useEffect(() => {
    if (!ref.current) return;
    const chart = echarts.init(ref.current, undefined, { renderer: 'svg' });
    const grids = [
      { left: 61, top: 36.7, width: 327, height: 325 },
      { left: 491.7, top: 36.7, width: 326.6, height: 325 },
    ];
    const xAxes = [0, 1].map((i) => ({
      ...axisCommon(), gridIndex: i, min: -4, max: 4, interval: 2, name: 'X(m)', nameGap: 27,
      axisLabel: { ...axisCommon().axisLabel, margin: 7 },
    }));
    const yAxes = [0, 1].map((i) => ({
      ...axisCommon(), gridIndex: i, min: -4, max: 4, interval: 1, name: 'Y(m)', nameGap: 31,
      axisLabel: { ...axisCommon().axisLabel, margin: 5 },
    }));
    const scatter = (data: number[][], idx: number) => ({
      type: 'scatter', name: 'Samples at Tj+1', data, xAxisIndex: idx, yAxisIndex: idx,
      symbol: 'circle', symbolSize: 7.5, clip: true, z: 2,
      itemStyle: { color: COLORS.gray, opacity: 1, borderWidth: 0 },
    });
    const option = {
      animation: false,
      textStyle: { fontFamily: FONT },
      title: [
        { text: plotTitles[0], left: 224, top: 7, textAlign: 'center', padding: 0, textStyle: { fontFamily: FONT, fontWeight: 'bold', fontSize: 18, color: '#000' } },
        { text: plotTitles[1], left: 655, top: 7, textAlign: 'center', padding: 0, textStyle: { fontFamily: FONT, fontWeight: 'bold', fontSize: 18, color: '#000' } },
      ],
      grid: grids,
      xAxis: xAxes,
      yAxis: yAxes,
      series: [
        scatter(pairs(samplesLeft, samplesLeftCore), 0),
        lineSeries(legendLeft[0], gaussianTj, COLORS.cyan, 0),
        lineSeries(legendLeft[2], realLeft, COLORS.blue, 0),
        lineSeries(legendLeft[3], vanillaLeft, COLORS.red, 0),
        triangleSeries('Gaussian pose', arrowGaussianLeft, COLORS.cyan, 0),
        triangleSeries('Real pose', arrowRealLeft, COLORS.blue, 0),
        triangleSeries('Vanilla pose', arrowVanillaLeft, COLORS.red, 0),
        scatter(pairs(samplesRight, samplesRightCore), 1),
        lineSeries(legendRight[0], gaussianTj, COLORS.cyan, 1),
        lineSeries(legendRight[2], realRight, COLORS.blue, 1),
        lineSeries(legendRight[3], ucrRight, COLORS.red, 1),
        triangleSeries('Gaussian pose R', arrowGaussianRight, COLORS.cyan, 1),
        triangleSeries('Real pose R', arrowRealRight, COLORS.blue, 1),
        triangleSeries('UCR pose', arrowUcrRight, COLORS.red, 1),
      ],
      graphic: [legendGraphic(190, legendLeft), legendGraphic(619.5, legendRight)],
    };
    chart.setOption(option as any);
    return () => chart.dispose();
  }, []);
  return (
    <div
      ref={ref}
      style={{ position: 'fixed', left: 0, top: 0, width: 820, height: 414, background: '#fff' }}
    />
  );
}
